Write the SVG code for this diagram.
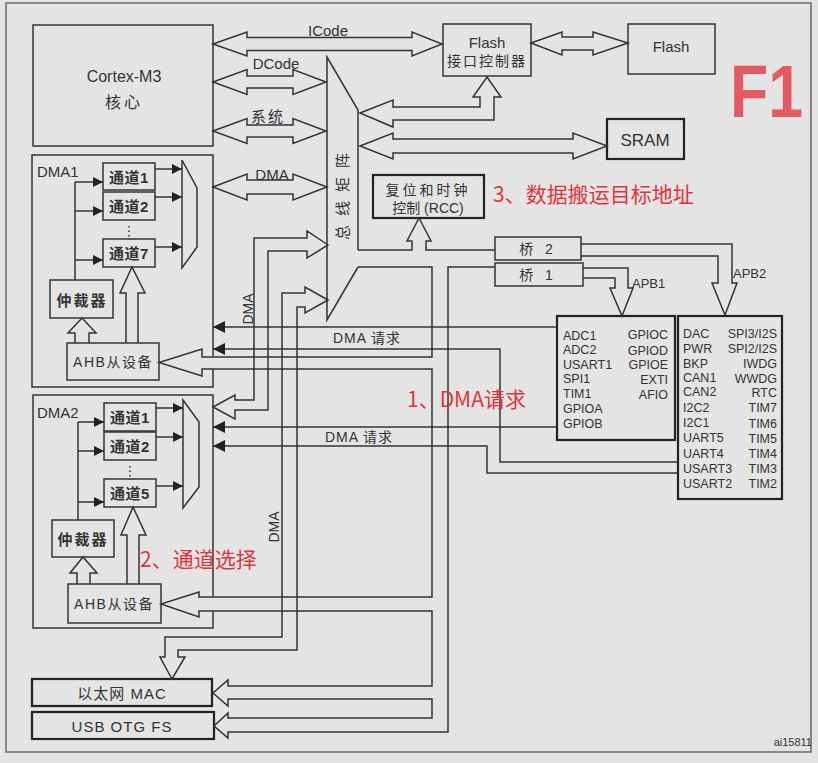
<svg xmlns="http://www.w3.org/2000/svg" width="818" height="763" viewBox="0 0 818 763">
<defs>
<style>
.ln{fill:none;stroke:#333;stroke-width:1.5}
.bx{fill:none;stroke:#333;stroke-width:1.5}
.bk{fill:none;stroke:#222;stroke-width:2.2}
.ha{fill:none;stroke:#333;stroke-width:1.5;stroke-linejoin:miter}
text{font-family:"Liberation Sans","Noto Sans CJK SC",sans-serif;fill:#333}
.c{text-anchor:middle;dominant-baseline:central}
.p{font-size:12.5px}
.r{fill:#e0353b;font-size:21px;font-family:"Noto Sans CJK SC","Liberation Sans",sans-serif}
.f1{fill:#e35a60;font-size:74px;font-weight:bold}
</style>
<marker id="fa" viewBox="0 0 12 12" refX="12" refY="6" markerWidth="12" markerHeight="12" markerUnits="userSpaceOnUse" orient="auto"><path d="M0,0 L12,6 L0,12 Z" fill="#222"/></marker>
<marker id="fb" viewBox="0 0 10 10" refX="10" refY="5" markerWidth="10" markerHeight="10" markerUnits="userSpaceOnUse" orient="auto"><path d="M0,0 L10,5 L0,10 Z" fill="#222"/></marker>
</defs>
<rect x="0" y="0" width="818" height="763" fill="#e4e4e4"/>
<rect x="6" y="3" width="805" height="749" fill="none" stroke="#6a6a6a" stroke-width="1.5"/>

<g id="cortex">
<rect class="bx" x="33" y="25" width="180" height="121"/>
<text class="c" x="124" y="76" font-size="16">Cortex-M3</text>
<text class="c" x="124" y="102" font-size="16" letter-spacing="3">核心</text>
</g>

<g id="busmatrix">
<path class="ln" d="M358,250 L358,110 L327,57 L327,320 L358,267"/>
<text class="c" font-size="15" letter-spacing="9" transform="translate(342,192) rotate(-90)">总线矩阵</text>
</g>

<g id="flashctrl">
<rect class="bx" x="443" y="24" width="88" height="52"/>
<text class="c" x="487" y="42" font-size="15">Flash</text>
<text class="c" x="487" y="61" font-size="14" letter-spacing="2">接口控制器</text>
</g>

<g id="flash">
<rect class="bx" x="628" y="24" width="87" height="50"/>
<text class="c" x="671" y="46" font-size="15">Flash</text>
</g>

<g id="sram">
<rect class="bk" x="607" y="119" width="77" height="40"/>
<text class="c" x="645" y="140" font-size="17">SRAM</text>
</g>

<g id="f1">
<text class="f1" x="730" y="117" textLength="73" lengthAdjust="spacingAndGlyphs">F1</text>
</g>

<g id="rcc">
<rect class="bk" x="373" y="175" width="111" height="43"/>
<text class="c" x="428" y="190" font-size="14" letter-spacing="3">复位和时钟</text>
<text class="c" x="428" y="208" font-size="14">控制 (RCC)</text>
</g>

<g id="bridge2">
<rect class="bx" x="495" y="237" width="86" height="23"/>
<text class="c" x="538" y="249" font-size="14" letter-spacing="4">桥 2</text>
</g>
<g id="bridge1">
<rect class="bx" x="495" y="263" width="88" height="23"/>
<text class="c" x="538" y="275" font-size="14" letter-spacing="4">桥 1</text>
</g>

<g id="apb1">
<rect class="bk" x="557" y="316" width="118" height="124"/>
<g class="p">
<text x="563" y="339.5">ADC1</text>
<text x="563" y="354">ADC2</text>
<text x="563" y="368.5">USART1</text>
<text x="563" y="383">SPI1</text>
<text x="563" y="398">TIM1</text>
<text x="563" y="413">GPIOA</text>
<text x="563" y="428">GPIOB</text>
</g>
<g class="p" text-anchor="end">
<text x="668" y="339">GPIOC</text>
<text x="668" y="354.5">GPIOD</text>
<text x="668" y="368.5">GPIOE</text>
<text x="668" y="383.5">EXTI</text>
<text x="668" y="398.5">AFIO</text>
</g>
</g>

<g id="apb2">
<rect class="bk" x="678" y="316" width="104" height="183"/>
<g class="p">
<text x="683" y="337.5">DAC</text>
<text x="683" y="352.5">PWR</text>
<text x="683" y="367.5">BKP</text>
<text x="683" y="381.5">CAN1</text>
<text x="683" y="395.5">CAN2</text>
<text x="683" y="411.5">I2C2</text>
<text x="683" y="427">I2C1</text>
<text x="683" y="442">UART5</text>
<text x="683" y="457.5">UART4</text>
<text x="683" y="472.5">USART3</text>
<text x="683" y="488">USART2</text>
</g>
<g class="p" text-anchor="end">
<text x="777" y="337.5">SPI3/I2S</text>
<text x="777" y="352.5">SPI2/I2S</text>
<text x="777" y="367.5">IWDG</text>
<text x="777" y="382.5">WWDG</text>
<text x="777" y="396.5">RTC</text>
<text x="777" y="412">TIM7</text>
<text x="777" y="427.5">TIM6</text>
<text x="777" y="442.5">TIM5</text>
<text x="777" y="458">TIM4</text>
<text x="777" y="473">TIM3</text>
<text x="777" y="488">TIM2</text>
</g>
</g>

<g id="dma1">
<path class="bx" d="M213,357 L213,155 L32,155 L32,387 L213,387 L213,369"/>
<text x="37" y="177" font-size="15">DMA1</text>
<rect class="bx" x="103" y="163" width="52" height="27"/>
<text class="c" x="129" y="177" font-size="15" font-weight="bold" letter-spacing="0.5">通道1</text>
<rect class="bx" x="103" y="192" width="52" height="28"/>
<text class="c" x="129" y="206" font-size="15" font-weight="bold" letter-spacing="0.5">通道2</text>
<line x1="129" y1="226" x2="129" y2="238" stroke="#333" stroke-width="1.5" stroke-dasharray="1.5 3"/>
<rect class="bx" x="103" y="239" width="52" height="28"/>
<text class="c" x="129" y="253" font-size="15" font-weight="bold" letter-spacing="0.5">通道7</text>
<path class="ln" d="M182,160 L197,188 L197,247 L182,268 Z"/>
<rect class="bx" x="50" y="280" width="63" height="38"/>
<text class="c" x="82" y="300" font-size="15" font-weight="bold" letter-spacing="2">仲裁器</text>
<rect class="bx" x="67" y="343" width="92" height="37"/>
<text class="c" x="113" y="362" font-size="14" letter-spacing="1.5">AHB从设备</text>
<path class="ln" d="M75,280 L75,182"/>
<line class="ln" x1="75" y1="182" x2="103" y2="182" marker-end="url(#fb)"/>
<line class="ln" x1="75" y1="211" x2="103" y2="211" marker-end="url(#fb)"/>
<line class="ln" x1="75" y1="260" x2="103" y2="260" marker-end="url(#fb)"/>
<line class="ln" x1="155" y1="169" x2="182" y2="169" marker-end="url(#fb)"/>
<line class="ln" x1="155" y1="197" x2="182" y2="197" marker-end="url(#fb)"/>
<line class="ln" x1="155" y1="247" x2="182" y2="247" marker-end="url(#fb)"/>
<path class="ha" d="M75,343 L75,333 L68,333 L82,318 L96,333 L89,333 L89,343"/>
<path class="ha" d="M126,343 L126,293 L120,293 L132,267 L145,293 L138,293 L138,343"/>
</g>

<g id="dma2">
<path class="bx" d="M213,597 L213,395 L33,395 L33,628 L213,628 L213,611"/>
<text x="37" y="418" font-size="15">DMA2</text>
<rect class="bx" x="104" y="403" width="52" height="28"/>
<text class="c" x="130" y="417" font-size="15" font-weight="bold" letter-spacing="0.5">通道1</text>
<rect class="bx" x="104" y="432" width="52" height="28"/>
<text class="c" x="130" y="446" font-size="15" font-weight="bold" letter-spacing="0.5">通道2</text>
<line x1="130" y1="466" x2="130" y2="478" stroke="#333" stroke-width="1.5" stroke-dasharray="1.5 3"/>
<rect class="bx" x="104" y="479" width="52" height="28"/>
<text class="c" x="130" y="493" font-size="15" font-weight="bold" letter-spacing="0.5">通道5</text>
<path class="ln" d="M183,400 L199,422 L199,487 L183,508 Z"/>
<rect class="bx" x="52" y="520" width="62" height="37"/>
<text class="c" x="83" y="539" font-size="15" font-weight="bold" letter-spacing="2">仲裁器</text>
<rect class="bx" x="68" y="584" width="93" height="39"/>
<text class="c" x="114" y="604" font-size="14" letter-spacing="1.5">AHB从设备</text>
<path class="ln" d="M78,520 L78,422"/>
<line class="ln" x1="78" y1="422" x2="104" y2="422" marker-end="url(#fb)"/>
<line class="ln" x1="78" y1="451" x2="104" y2="451" marker-end="url(#fb)"/>
<line class="ln" x1="78" y1="502" x2="104" y2="502" marker-end="url(#fb)"/>
<line class="ln" x1="156" y1="408" x2="183" y2="408" marker-end="url(#fb)"/>
<line class="ln" x1="156" y1="437" x2="183" y2="437" marker-end="url(#fb)"/>
<line class="ln" x1="156" y1="486" x2="183" y2="486" marker-end="url(#fb)"/>
<path class="ha" d="M77,584 L77,573 L70,573 L83,557 L97,573 L90,573 L90,584"/>
<path class="ha" d="M127,584 L127,535 L121,535 L133,507 L146,535 L139,535 L139,584"/>
</g>

<g id="ethernet">
<rect class="bk" x="32" y="679" width="180" height="27"/>
<text class="c" x="122" y="693" font-size="15" letter-spacing="1">以太网 MAC</text>
</g>
<g id="usb">
<rect class="bk" x="32" y="712" width="182" height="27"/>
<text class="c" x="122" y="726" font-size="15" letter-spacing="1">USB OTG FS</text>
</g>

<g id="connectors">
<path class="ha" d="M213,44 L247,32 L247,37.5 L412,37.5 L412,32 L442,44 L412,56 L412,50.5 L247,50.5 L247,56 Z"/>
<path class="ha" d="M213,82 L247,69.5 L247,76 L293,76 L293,69.5 L326,82 L293,94.5 L293,88 L247,88 L247,94.5 Z"/>
<path class="ha" d="M213,131 L247,118.5 L247,125 L293,125 L293,118.5 L326,131 L293,143.5 L293,137 L247,137 L247,143.5 Z"/>
<path class="ha" d="M213,187 L247,174 L247,180 L293,180 L293,174 L327,187 L293,200 L293,194 L247,194 L247,200 Z"/>
<path class="ha" d="M531,43 L562,32 L562,37 L593,37 L593,32 L628,43 L593,55 L593,50 L562,50 L562,55 Z"/>
<path class="ha" d="M360,146 L393,133 L393,139 L573,139 L573,133 L607,146 L573,159 L573,153 L393,153 L393,159 Z"/>
<path class="ha" d="M360,113 L393,100 L393,107 L480,107 L480,97 L473,97 L487,77 L501,97 L494,97 L494,120 L393,120 L393,127 Z"/>
<path class="ha" d="M358,250 L412,250 L412,241 L407,241 L419,218 L431,241 L426,241 L426,250 L495,250"/>
<path class="ha" d="M358,267 L432,267 L432,357 L202,357 L202,349 L159,362.5 L202,376 L202,369 L432,369 L432,597 L199,597 L199,592 L161,604 L199,617 L199,611 L432,611 L432,686 L228,686 L228,680 L213,693 L228,706 L228,699 L432,699 L432,718 L228,718 L228,713 L214,726 L228,738 L228,732 L448,732 L448,267 L495,267"/>
<path class="ha" d="M581,244 L732,244 L732,283 L737,283 L725,315 L712,283 L718,283 L718,256 L581,256"/>
<path class="ha" d="M583,268 L628,268 L628,288 L633,288 L622,316 L610,288 L615,288 L615,278 L583,278"/>
<path class="ha" d="M328,245 L307,231 L307,238 L254,238 L254,400 L235,400 L235,395 L213,407 L235,419 L235,410 L268,410 L268,251 L307,251 L307,258 Z"/>
<path class="ha" d="M328,300 L305,287 L305,293 L282,293 L282,637 L165,637 L165,657 L160,657 L172,679 L185,657 L178,657 L178,650 L297,650 L297,307 L305,307 L305,313 Z"/>
<path class="ln" d="M557,327 L213,327" marker-end="url(#fa)"/>
<path class="ln" d="M678,462 L500,462 L500,349 L213,349" marker-end="url(#fa)"/>
<path class="ln" d="M557,427 L213,427" marker-end="url(#fa)"/>
<path class="ln" d="M678,473 L487,473 L487,446 L213,446" marker-end="url(#fa)"/>
</g>

<g id="labels">
<text class="c" x="328" y="30" font-size="15">ICode</text>
<text class="c" x="276" y="63" font-size="15">DCode</text>
<text class="c" x="268" y="116" font-size="15" letter-spacing="2">系统</text>
<text class="c" x="272" y="174" font-size="15">DMA</text>
<text class="c" font-size="14" transform="translate(248,309) rotate(-90)">DMA</text>
<text class="c" font-size="14" transform="translate(274,527) rotate(-90)">DMA</text>
<text class="c" x="367" y="338" font-size="14" letter-spacing="1">DMA  请求</text>
<text class="c" x="359" y="437" font-size="14" letter-spacing="1">DMA  请求</text>
<text x="733" y="278" font-size="13">APB2</text>
<text x="632" y="288" font-size="13">APB1</text>
<text class="r" x="493" y="202">3、数据搬运目标地址</text>
<text class="r" x="407" y="407">1、DMA请求</text>
<text class="r" x="140" y="567">2、通道选择</text>
<text x="812" y="746" font-size="11" text-anchor="end">ai15811</text>
</g>
</svg>
